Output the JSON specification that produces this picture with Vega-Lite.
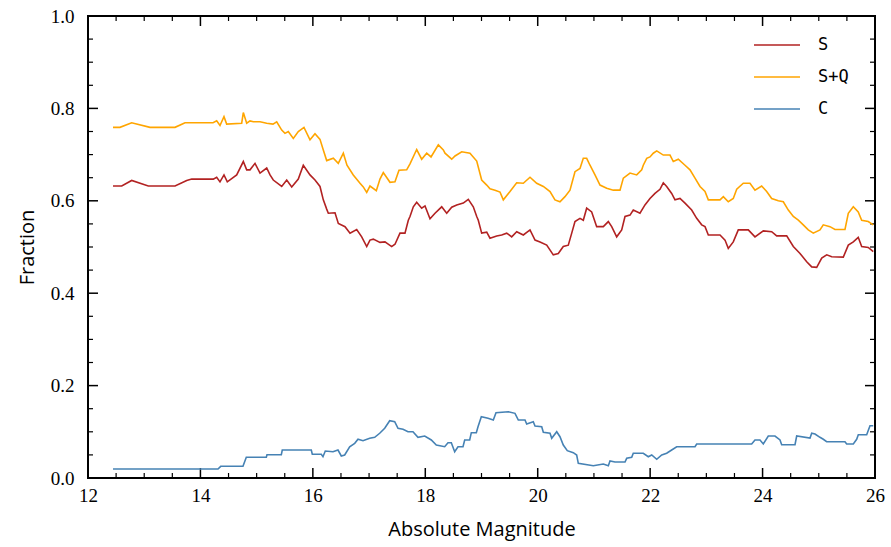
{
  "$schema": "https://vega.github.io/schema/vega-lite/v6.json",
  "width": 787,
  "height": 462,
  "autosize": {"type": "none"},
  "padding": {"left": 88, "top": 16, "right": 16, "bottom": 69},
  "background": "white",
  "config": {
    "view": {"stroke": "black", "strokeWidth": 2},
    "axis": {"grid": false, "domain": false, "labelColor": "black", "titleColor": "black"}
  },
  "datasets": {
    "xmajor": [{"t":12},{"t":14},{"t":16},{"t":18},{"t":20},{"t":22},{"t":24},{"t":26}],
    "xminor": [{"t":12.5},{"t":13},{"t":13.5},{"t":14.5},{"t":15},{"t":15.5},{"t":16.5},{"t":17},{"t":17.5},{"t":18.5},{"t":19},{"t":19.5},{"t":20.5},{"t":21},{"t":21.5},{"t":22.5},{"t":23},{"t":23.5},{"t":24.5},{"t":25},{"t":25.5}],
    "ymajor": [{"t":0},{"t":0.2},{"t":0.4},{"t":0.6},{"t":0.8},{"t":1.0}],
    "yminor": [{"t":0.05},{"t":0.1},{"t":0.15},{"t":0.25},{"t":0.3},{"t":0.35},{"t":0.45},{"t":0.5},{"t":0.55},{"t":0.65},{"t":0.7},{"t":0.75},{"t":0.85},{"t":0.9},{"t":0.95}],
    "curves": [
    {"mag":12.445,"frac":0.759,"type":"S+Q"},{"mag":12.569,"frac":0.759,"type":"S+Q"},{"mag":12.777,"frac":0.769,"type":"S+Q"},{"mag":13.103,"frac":0.759,"type":"S+Q"},{"mag":13.548,"frac":0.759,"type":"S+Q"},{"mag":13.726,"frac":0.769,"type":"S+Q"},{"mag":14.224,"frac":0.769,"type":"S+Q"},{"mag":14.289,"frac":0.773,"type":"S+Q"},{"mag":14.348,"frac":0.763,"type":"S+Q"},{"mag":14.419,"frac":0.782,"type":"S+Q"},{"mag":14.467,"frac":0.766,"type":"S+Q"},{"mag":14.734,"frac":0.768,"type":"S+Q"},{"mag":14.763,"frac":0.791,"type":"S+Q"},{"mag":14.823,"frac":0.768,"type":"S+Q"},{"mag":14.882,"frac":0.773,"type":"S+Q"},{"mag":14.941,"frac":0.771,"type":"S+Q"},{"mag":15.060,"frac":0.771,"type":"S+Q"},{"mag":15.179,"frac":0.768,"type":"S+Q"},{"mag":15.291,"frac":0.766,"type":"S+Q"},{"mag":15.357,"frac":0.771,"type":"S+Q"},{"mag":15.446,"frac":0.753,"type":"S+Q"},{"mag":15.504,"frac":0.746,"type":"S+Q"},{"mag":15.563,"frac":0.750,"type":"S+Q"},{"mag":15.652,"frac":0.735,"type":"S+Q"},{"mag":15.741,"frac":0.750,"type":"S+Q"},{"mag":15.842,"frac":0.759,"type":"S+Q"},{"mag":15.949,"frac":0.732,"type":"S+Q"},{"mag":16.038,"frac":0.745,"type":"S+Q"},{"mag":16.127,"frac":0.733,"type":"S+Q"},{"mag":16.186,"frac":0.710,"type":"S+Q"},{"mag":16.246,"frac":0.687,"type":"S+Q"},{"mag":16.364,"frac":0.692,"type":"S+Q"},{"mag":16.452,"frac":0.681,"type":"S+Q"},{"mag":16.542,"frac":0.703,"type":"S+Q"},{"mag":16.607,"frac":0.677,"type":"S+Q"},{"mag":16.719,"frac":0.656,"type":"S+Q"},{"mag":16.839,"frac":0.638,"type":"S+Q"},{"mag":16.897,"frac":0.630,"type":"S+Q"},{"mag":16.958,"frac":0.618,"type":"S+Q"},{"mag":17.016,"frac":0.632,"type":"S+Q"},{"mag":17.129,"frac":0.622,"type":"S+Q"},{"mag":17.194,"frac":0.647,"type":"S+Q"},{"mag":17.253,"frac":0.661,"type":"S+Q"},{"mag":17.372,"frac":0.640,"type":"S+Q"},{"mag":17.461,"frac":0.641,"type":"S+Q"},{"mag":17.532,"frac":0.666,"type":"S+Q"},{"mag":17.669,"frac":0.667,"type":"S+Q"},{"mag":17.728,"frac":0.680,"type":"S+Q"},{"mag":17.847,"frac":0.711,"type":"S+Q"},{"mag":17.936,"frac":0.690,"type":"S+Q"},{"mag":18.025,"frac":0.703,"type":"S+Q"},{"mag":18.102,"frac":0.695,"type":"S+Q"},{"mag":18.232,"frac":0.721,"type":"S+Q"},{"mag":18.321,"frac":0.710,"type":"S+Q"},{"mag":18.351,"frac":0.703,"type":"S+Q"},{"mag":18.470,"frac":0.690,"type":"S+Q"},{"mag":18.529,"frac":0.697,"type":"S+Q"},{"mag":18.648,"frac":0.706,"type":"S+Q"},{"mag":18.795,"frac":0.703,"type":"S+Q"},{"mag":18.915,"frac":0.686,"type":"S+Q"},{"mag":19.003,"frac":0.645,"type":"S+Q"},{"mag":19.093,"frac":0.634,"type":"S+Q"},{"mag":19.151,"frac":0.626,"type":"S+Q"},{"mag":19.240,"frac":0.623,"type":"S+Q"},{"mag":19.329,"frac":0.619,"type":"S+Q"},{"mag":19.388,"frac":0.602,"type":"S+Q"},{"mag":19.507,"frac":0.620,"type":"S+Q"},{"mag":19.626,"frac":0.639,"type":"S+Q"},{"mag":19.744,"frac":0.638,"type":"S+Q"},{"mag":19.863,"frac":0.651,"type":"S+Q"},{"mag":19.982,"frac":0.638,"type":"S+Q"},{"mag":20.100,"frac":0.631,"type":"S+Q"},{"mag":20.219,"frac":0.620,"type":"S+Q"},{"mag":20.307,"frac":0.602,"type":"S+Q"},{"mag":20.396,"frac":0.598,"type":"S+Q"},{"mag":20.485,"frac":0.609,"type":"S+Q"},{"mag":20.574,"frac":0.623,"type":"S+Q"},{"mag":20.663,"frac":0.663,"type":"S+Q"},{"mag":20.752,"frac":0.670,"type":"S+Q"},{"mag":20.811,"frac":0.692,"type":"S+Q"},{"mag":20.871,"frac":0.692,"type":"S+Q"},{"mag":20.930,"frac":0.677,"type":"S+Q"},{"mag":21.019,"frac":0.656,"type":"S+Q"},{"mag":21.108,"frac":0.634,"type":"S+Q"},{"mag":21.227,"frac":0.627,"type":"S+Q"},{"mag":21.345,"frac":0.623,"type":"S+Q"},{"mag":21.464,"frac":0.623,"type":"S+Q"},{"mag":21.523,"frac":0.649,"type":"S+Q"},{"mag":21.642,"frac":0.660,"type":"S+Q"},{"mag":21.761,"frac":0.656,"type":"S+Q"},{"mag":21.850,"frac":0.667,"type":"S+Q"},{"mag":21.878,"frac":0.677,"type":"S+Q"},{"mag":21.939,"frac":0.692,"type":"S+Q"},{"mag":21.997,"frac":0.695,"type":"S+Q"},{"mag":22.056,"frac":0.703,"type":"S+Q"},{"mag":22.117,"frac":0.708,"type":"S+Q"},{"mag":22.234,"frac":0.699,"type":"S+Q"},{"mag":22.353,"frac":0.699,"type":"S+Q"},{"mag":22.412,"frac":0.685,"type":"S+Q"},{"mag":22.501,"frac":0.690,"type":"S+Q"},{"mag":22.620,"frac":0.677,"type":"S+Q"},{"mag":22.709,"frac":0.667,"type":"S+Q"},{"mag":22.798,"frac":0.649,"type":"S+Q"},{"mag":22.887,"frac":0.631,"type":"S+Q"},{"mag":22.976,"frac":0.620,"type":"S+Q"},{"mag":23.035,"frac":0.602,"type":"S+Q"},{"mag":23.243,"frac":0.602,"type":"S+Q"},{"mag":23.302,"frac":0.609,"type":"S+Q"},{"mag":23.390,"frac":0.598,"type":"S+Q"},{"mag":23.479,"frac":0.605,"type":"S+Q"},{"mag":23.540,"frac":0.625,"type":"S+Q"},{"mag":23.657,"frac":0.638,"type":"S+Q"},{"mag":23.776,"frac":0.638,"type":"S+Q"},{"mag":23.865,"frac":0.623,"type":"S+Q"},{"mag":23.984,"frac":0.632,"type":"S+Q"},{"mag":24.073,"frac":0.620,"type":"S+Q"},{"mag":24.162,"frac":0.605,"type":"S+Q"},{"mag":24.280,"frac":0.600,"type":"S+Q"},{"mag":24.369,"frac":0.598,"type":"S+Q"},{"mag":24.458,"frac":0.580,"type":"S+Q"},{"mag":24.547,"frac":0.566,"type":"S+Q"},{"mag":24.636,"frac":0.558,"type":"S+Q"},{"mag":24.724,"frac":0.548,"type":"S+Q"},{"mag":24.813,"frac":0.537,"type":"S+Q"},{"mag":24.902,"frac":0.530,"type":"S+Q"},{"mag":25.021,"frac":0.537,"type":"S+Q"},{"mag":25.080,"frac":0.548,"type":"S+Q"},{"mag":25.199,"frac":0.544,"type":"S+Q"},{"mag":25.288,"frac":0.538,"type":"S+Q"},{"mag":25.466,"frac":0.538,"type":"S+Q"},{"mag":25.525,"frac":0.573,"type":"S+Q"},{"mag":25.614,"frac":0.587,"type":"S+Q"},{"mag":25.702,"frac":0.576,"type":"S+Q"},{"mag":25.763,"frac":0.558,"type":"S+Q"},{"mag":25.880,"frac":0.555,"type":"S+Q"},{"mag":25.969,"frac":0.548,"type":"S+Q"},
    {"mag":12.445,"frac":0.632,"type":"S"},{"mag":12.600,"frac":0.632,"type":"S"},{"mag":12.777,"frac":0.644,"type":"S"},{"mag":13.073,"frac":0.632,"type":"S"},{"mag":13.548,"frac":0.632,"type":"S"},{"mag":13.756,"frac":0.644,"type":"S"},{"mag":13.845,"frac":0.647,"type":"S"},{"mag":14.229,"frac":0.647,"type":"S"},{"mag":14.289,"frac":0.651,"type":"S"},{"mag":14.348,"frac":0.641,"type":"S"},{"mag":14.419,"frac":0.656,"type":"S"},{"mag":14.478,"frac":0.641,"type":"S"},{"mag":14.645,"frac":0.656,"type":"S"},{"mag":14.763,"frac":0.685,"type":"S"},{"mag":14.823,"frac":0.667,"type":"S"},{"mag":14.882,"frac":0.667,"type":"S"},{"mag":14.971,"frac":0.681,"type":"S"},{"mag":15.060,"frac":0.660,"type":"S"},{"mag":15.179,"frac":0.671,"type":"S"},{"mag":15.238,"frac":0.656,"type":"S"},{"mag":15.296,"frac":0.645,"type":"S"},{"mag":15.446,"frac":0.631,"type":"S"},{"mag":15.535,"frac":0.645,"type":"S"},{"mag":15.624,"frac":0.630,"type":"S"},{"mag":15.741,"frac":0.647,"type":"S"},{"mag":15.830,"frac":0.677,"type":"S"},{"mag":15.949,"frac":0.656,"type":"S"},{"mag":16.038,"frac":0.645,"type":"S"},{"mag":16.127,"frac":0.631,"type":"S"},{"mag":16.186,"frac":0.602,"type":"S"},{"mag":16.246,"frac":0.582,"type":"S"},{"mag":16.275,"frac":0.573,"type":"S"},{"mag":16.394,"frac":0.574,"type":"S"},{"mag":16.453,"frac":0.551,"type":"S"},{"mag":16.572,"frac":0.544,"type":"S"},{"mag":16.661,"frac":0.530,"type":"S"},{"mag":16.780,"frac":0.538,"type":"S"},{"mag":16.869,"frac":0.522,"type":"S"},{"mag":16.958,"frac":0.501,"type":"S"},{"mag":17.016,"frac":0.515,"type":"S"},{"mag":17.075,"frac":0.517,"type":"S"},{"mag":17.194,"frac":0.510,"type":"S"},{"mag":17.283,"frac":0.511,"type":"S"},{"mag":17.402,"frac":0.501,"type":"S"},{"mag":17.461,"frac":0.506,"type":"S"},{"mag":17.550,"frac":0.530,"type":"S"},{"mag":17.639,"frac":0.530,"type":"S"},{"mag":17.698,"frac":0.558,"type":"S"},{"mag":17.728,"frac":0.566,"type":"S"},{"mag":17.787,"frac":0.587,"type":"S"},{"mag":17.847,"frac":0.597,"type":"S"},{"mag":17.936,"frac":0.584,"type":"S"},{"mag":17.995,"frac":0.589,"type":"S"},{"mag":18.084,"frac":0.561,"type":"S"},{"mag":18.173,"frac":0.573,"type":"S"},{"mag":18.292,"frac":0.587,"type":"S"},{"mag":18.381,"frac":0.573,"type":"S"},{"mag":18.470,"frac":0.586,"type":"S"},{"mag":18.559,"frac":0.591,"type":"S"},{"mag":18.676,"frac":0.595,"type":"S"},{"mag":18.765,"frac":0.603,"type":"S"},{"mag":18.854,"frac":0.587,"type":"S"},{"mag":18.915,"frac":0.566,"type":"S"},{"mag":18.943,"frac":0.558,"type":"S"},{"mag":19.003,"frac":0.530,"type":"S"},{"mag":19.093,"frac":0.532,"type":"S"},{"mag":19.151,"frac":0.519,"type":"S"},{"mag":19.270,"frac":0.524,"type":"S"},{"mag":19.359,"frac":0.526,"type":"S"},{"mag":19.448,"frac":0.530,"type":"S"},{"mag":19.537,"frac":0.522,"type":"S"},{"mag":19.626,"frac":0.533,"type":"S"},{"mag":19.744,"frac":0.526,"type":"S"},{"mag":19.863,"frac":0.537,"type":"S"},{"mag":19.952,"frac":0.515,"type":"S"},{"mag":20.041,"frac":0.511,"type":"S"},{"mag":20.160,"frac":0.504,"type":"S"},{"mag":20.277,"frac":0.483,"type":"S"},{"mag":20.366,"frac":0.486,"type":"S"},{"mag":20.455,"frac":0.501,"type":"S"},{"mag":20.544,"frac":0.504,"type":"S"},{"mag":20.605,"frac":0.530,"type":"S"},{"mag":20.663,"frac":0.555,"type":"S"},{"mag":20.752,"frac":0.562,"type":"S"},{"mag":20.811,"frac":0.558,"type":"S"},{"mag":20.871,"frac":0.584,"type":"S"},{"mag":20.960,"frac":0.576,"type":"S"},{"mag":21.049,"frac":0.544,"type":"S"},{"mag":21.167,"frac":0.544,"type":"S"},{"mag":21.256,"frac":0.555,"type":"S"},{"mag":21.316,"frac":0.544,"type":"S"},{"mag":21.405,"frac":0.522,"type":"S"},{"mag":21.494,"frac":0.537,"type":"S"},{"mag":21.553,"frac":0.566,"type":"S"},{"mag":21.642,"frac":0.569,"type":"S"},{"mag":21.700,"frac":0.580,"type":"S"},{"mag":21.819,"frac":0.573,"type":"S"},{"mag":21.908,"frac":0.591,"type":"S"},{"mag":21.997,"frac":0.605,"type":"S"},{"mag":22.086,"frac":0.616,"type":"S"},{"mag":22.175,"frac":0.625,"type":"S"},{"mag":22.234,"frac":0.639,"type":"S"},{"mag":22.294,"frac":0.631,"type":"S"},{"mag":22.383,"frac":0.616,"type":"S"},{"mag":22.442,"frac":0.602,"type":"S"},{"mag":22.531,"frac":0.605,"type":"S"},{"mag":22.620,"frac":0.595,"type":"S"},{"mag":22.739,"frac":0.580,"type":"S"},{"mag":22.828,"frac":0.562,"type":"S"},{"mag":22.917,"frac":0.548,"type":"S"},{"mag":22.976,"frac":0.544,"type":"S"},{"mag":23.035,"frac":0.526,"type":"S"},{"mag":23.243,"frac":0.526,"type":"S"},{"mag":23.332,"frac":0.515,"type":"S"},{"mag":23.390,"frac":0.497,"type":"S"},{"mag":23.479,"frac":0.511,"type":"S"},{"mag":23.568,"frac":0.537,"type":"S"},{"mag":23.746,"frac":0.537,"type":"S"},{"mag":23.865,"frac":0.522,"type":"S"},{"mag":24.013,"frac":0.535,"type":"S"},{"mag":24.162,"frac":0.533,"type":"S"},{"mag":24.251,"frac":0.524,"type":"S"},{"mag":24.429,"frac":0.524,"type":"S"},{"mag":24.547,"frac":0.501,"type":"S"},{"mag":24.666,"frac":0.486,"type":"S"},{"mag":24.785,"frac":0.468,"type":"S"},{"mag":24.874,"frac":0.457,"type":"S"},{"mag":24.963,"frac":0.456,"type":"S"},{"mag":25.052,"frac":0.476,"type":"S"},{"mag":25.141,"frac":0.483,"type":"S"},{"mag":25.230,"frac":0.479,"type":"S"},{"mag":25.436,"frac":0.478,"type":"S"},{"mag":25.525,"frac":0.504,"type":"S"},{"mag":25.614,"frac":0.511,"type":"S"},{"mag":25.702,"frac":0.521,"type":"S"},{"mag":25.763,"frac":0.501,"type":"S"},{"mag":25.880,"frac":0.499,"type":"S"},{"mag":25.969,"frac":0.490,"type":"S"},
    {"mag":12.445,"frac":0.0195,"type":"C"},{"mag":14.313,"frac":0.0195,"type":"C"},{"mag":14.361,"frac":0.0253,"type":"C"},{"mag":14.757,"frac":0.0253,"type":"C"},{"mag":14.816,"frac":0.0448,"type":"C"},{"mag":15.172,"frac":0.0448,"type":"C"},{"mag":15.184,"frac":0.0504,"type":"C"},{"mag":15.439,"frac":0.0504,"type":"C"},{"mag":15.456,"frac":0.0606,"type":"C"},{"mag":15.972,"frac":0.0606,"type":"C"},{"mag":15.990,"frac":0.0513,"type":"C"},{"mag":16.150,"frac":0.0513,"type":"C"},{"mag":16.180,"frac":0.0461,"type":"C"},{"mag":16.221,"frac":0.0584,"type":"C"},{"mag":16.358,"frac":0.0569,"type":"C"},{"mag":16.447,"frac":0.0606,"type":"C"},{"mag":16.506,"frac":0.0476,"type":"C"},{"mag":16.566,"frac":0.0498,"type":"C"},{"mag":16.655,"frac":0.0677,"type":"C"},{"mag":16.744,"frac":0.0751,"type":"C"},{"mag":16.803,"frac":0.0838,"type":"C"},{"mag":16.892,"frac":0.0807,"type":"C"},{"mag":17.011,"frac":0.0859,"type":"C"},{"mag":17.100,"frac":0.0881,"type":"C"},{"mag":17.189,"frac":0.0968,"type":"C"},{"mag":17.278,"frac":0.1076,"type":"C"},{"mag":17.367,"frac":0.1240,"type":"C"},{"mag":17.456,"frac":0.1219,"type":"C"},{"mag":17.515,"frac":0.1076,"type":"C"},{"mag":17.604,"frac":0.1054,"type":"C"},{"mag":17.692,"frac":0.1002,"type":"C"},{"mag":17.781,"frac":0.1002,"type":"C"},{"mag":17.870,"frac":0.0881,"type":"C"},{"mag":17.990,"frac":0.0909,"type":"C"},{"mag":18.107,"frac":0.0823,"type":"C"},{"mag":18.196,"frac":0.0714,"type":"C"},{"mag":18.345,"frac":0.0677,"type":"C"},{"mag":18.404,"frac":0.0764,"type":"C"},{"mag":18.463,"frac":0.0764,"type":"C"},{"mag":18.523,"frac":0.0569,"type":"C"},{"mag":18.582,"frac":0.0677,"type":"C"},{"mag":18.671,"frac":0.0677,"type":"C"},{"mag":18.701,"frac":0.0823,"type":"C"},{"mag":18.790,"frac":0.0823,"type":"C"},{"mag":18.819,"frac":0.0981,"type":"C"},{"mag":18.908,"frac":0.0981,"type":"C"},{"mag":18.938,"frac":0.1110,"type":"C"},{"mag":18.997,"frac":0.1327,"type":"C"},{"mag":19.116,"frac":0.1292,"type":"C"},{"mag":19.210,"frac":0.1255,"type":"C"},{"mag":19.258,"frac":0.1413,"type":"C"},{"mag":19.477,"frac":0.1435,"type":"C"},{"mag":19.596,"frac":0.1400,"type":"C"},{"mag":19.655,"frac":0.1255,"type":"C"},{"mag":19.774,"frac":0.1255,"type":"C"},{"mag":19.804,"frac":0.1169,"type":"C"},{"mag":19.921,"frac":0.1219,"type":"C"},{"mag":19.952,"frac":0.1126,"type":"C"},{"mag":20.071,"frac":0.1110,"type":"C"},{"mag":20.100,"frac":0.0989,"type":"C"},{"mag":20.219,"frac":0.0968,"type":"C"},{"mag":20.249,"frac":0.0859,"type":"C"},{"mag":20.338,"frac":0.1002,"type":"C"},{"mag":20.396,"frac":0.0894,"type":"C"},{"mag":20.455,"frac":0.0714,"type":"C"},{"mag":20.526,"frac":0.0591,"type":"C"},{"mag":20.633,"frac":0.0548,"type":"C"},{"mag":20.693,"frac":0.0498,"type":"C"},{"mag":20.722,"frac":0.0318,"type":"C"},{"mag":20.989,"frac":0.0266,"type":"C"},{"mag":21.167,"frac":0.0303,"type":"C"},{"mag":21.256,"frac":0.0266,"type":"C"},{"mag":21.286,"frac":0.0368,"type":"C"},{"mag":21.375,"frac":0.0346,"type":"C"},{"mag":21.553,"frac":0.0346,"type":"C"},{"mag":21.583,"frac":0.0426,"type":"C"},{"mag":21.672,"frac":0.0448,"type":"C"},{"mag":21.700,"frac":0.0535,"type":"C"},{"mag":21.878,"frac":0.0535,"type":"C"},{"mag":21.967,"frac":0.0461,"type":"C"},{"mag":22.028,"frac":0.0498,"type":"C"},{"mag":22.117,"frac":0.0405,"type":"C"},{"mag":22.206,"frac":0.0498,"type":"C"},{"mag":22.294,"frac":0.0535,"type":"C"},{"mag":22.383,"frac":0.0606,"type":"C"},{"mag":22.472,"frac":0.0677,"type":"C"},{"mag":22.798,"frac":0.0677,"type":"C"},{"mag":22.828,"frac":0.0736,"type":"C"},{"mag":23.806,"frac":0.0736,"type":"C"},{"mag":23.865,"frac":0.0823,"type":"C"},{"mag":23.954,"frac":0.0823,"type":"C"},{"mag":24.013,"frac":0.0736,"type":"C"},{"mag":24.102,"frac":0.0909,"type":"C"},{"mag":24.221,"frac":0.0909,"type":"C"},{"mag":24.310,"frac":0.0823,"type":"C"},{"mag":24.340,"frac":0.0721,"type":"C"},{"mag":24.577,"frac":0.0721,"type":"C"},{"mag":24.607,"frac":0.0909,"type":"C"},{"mag":24.844,"frac":0.0866,"type":"C"},{"mag":24.874,"frac":0.0968,"type":"C"},{"mag":24.933,"frac":0.0952,"type":"C"},{"mag":25.021,"frac":0.0881,"type":"C"},{"mag":25.080,"frac":0.0838,"type":"C"},{"mag":25.140,"frac":0.0786,"type":"C"},{"mag":25.466,"frac":0.0786,"type":"C"},{"mag":25.496,"frac":0.0736,"type":"C"},{"mag":25.614,"frac":0.0736,"type":"C"},{"mag":25.674,"frac":0.0838,"type":"C"},{"mag":25.703,"frac":0.0937,"type":"C"},{"mag":25.852,"frac":0.0937,"type":"C"},{"mag":25.911,"frac":0.1132,"type":"C"},{"mag":25.969,"frac":0.1132,"type":"C"}
    ]
  },
  "resolve": {"axis": {"x": "independent", "y": "independent"}},
  "layer": [
    {
      "data": {"name": "xmajor"},
      "mark": {"type": "tick", "orient": "vertical", "size": 10, "thickness": 1.5, "color": "black", "opacity": 1, "yOffset": -5},
      "encoding": {"x": {"field": "t", "type": "quantitative", "axis": null}, "y": {"datum": 0, "type": "quantitative", "axis": null}}
    },
    {
      "data": {"name": "xmajor"},
      "mark": {"type": "tick", "orient": "vertical", "size": 10, "thickness": 1.5, "color": "black", "opacity": 1, "yOffset": 5},
      "encoding": {"x": {"field": "t", "type": "quantitative", "axis": null}, "y": {"datum": 1, "type": "quantitative", "axis": null}}
    },
    {
      "data": {"name": "xminor"},
      "mark": {"type": "tick", "orient": "vertical", "size": 5, "thickness": 1.2, "color": "black", "opacity": 1, "yOffset": -2.5},
      "encoding": {"x": {"field": "t", "type": "quantitative", "axis": null}, "y": {"datum": 0, "type": "quantitative", "axis": null}}
    },
    {
      "data": {"name": "xminor"},
      "mark": {"type": "tick", "orient": "vertical", "size": 5, "thickness": 1.2, "color": "black", "opacity": 1, "yOffset": 2.5},
      "encoding": {"x": {"field": "t", "type": "quantitative", "axis": null}, "y": {"datum": 1, "type": "quantitative", "axis": null}}
    },
    {
      "data": {"name": "ymajor"},
      "mark": {"type": "tick", "orient": "horizontal", "size": 10, "thickness": 1.5, "color": "black", "opacity": 1, "xOffset": 5},
      "encoding": {"y": {"field": "t", "type": "quantitative", "axis": null}, "x": {"datum": 12, "type": "quantitative", "axis": null}}
    },
    {
      "data": {"name": "ymajor"},
      "mark": {"type": "tick", "orient": "horizontal", "size": 10, "thickness": 1.5, "color": "black", "opacity": 1, "xOffset": -5},
      "encoding": {"y": {"field": "t", "type": "quantitative", "axis": null}, "x": {"datum": 26, "type": "quantitative", "axis": null}}
    },
    {
      "data": {"name": "yminor"},
      "mark": {"type": "tick", "orient": "horizontal", "size": 5, "thickness": 1.2, "color": "black", "opacity": 1, "xOffset": 2.5},
      "encoding": {"y": {"field": "t", "type": "quantitative", "axis": null}, "x": {"datum": 12, "type": "quantitative", "axis": null}}
    },
    {
      "data": {"name": "yminor"},
      "mark": {"type": "tick", "orient": "horizontal", "size": 5, "thickness": 1.2, "color": "black", "opacity": 1, "xOffset": -2.5},
      "encoding": {"y": {"field": "t", "type": "quantitative", "axis": null}, "x": {"datum": 26, "type": "quantitative", "axis": null}}
    },
    {
      "data": {"name": "curves"},
      "mark": {"type": "line", "strokeWidth": 1.6},
      "encoding": {
        "x": {"field": "mag", "type": "quantitative", "scale": {"domain": [12, 26], "nice": false, "zero": false},
          "axis": {"orient": "bottom", "title": "Absolute Magnitude", "titleFont": "Open Sans", "titleFontSize": 20, "titleFontWeight": "normal", "titlePadding": 14,
            "labelFont": "Liberation Serif", "labelFontSize": 19, "labelPadding": 8, "ticks": false, "values": [12, 14, 16, 18, 20, 22, 24, 26], "format": "d", "labelFlush": false}},
        "y": {"field": "frac", "type": "quantitative", "scale": {"domain": [0, 1], "nice": false},
          "axis": {"orient": "left", "title": "Fraction", "titleFont": "Open Sans", "titleFontSize": 20, "titleFontWeight": "normal", "titlePadding": 13,
            "labelFont": "Liberation Serif", "labelFontSize": 19, "labelPadding": 14, "ticks": false, "values": [0, 0.2, 0.4, 0.6, 0.8, 1.0], "format": ".1f", "labelFlush": false}},
        "color": {"field": "type", "type": "nominal",
          "scale": {"domain": ["S", "S+Q", "C"], "range": ["#b22222", "#ffa500", "#4682b4"]},
          "legend": {"title": null, "orient": "none", "legendX": 665, "legendY": 5, "symbolType": "stroke", "symbolSize": 2116, "symbolStrokeWidth": 1.6,
            "labelFont": "DejaVu Sans Mono", "labelFontSize": 17, "labelOffset": 17, "rowPadding": -14.5, "padding": 0, "labelColor": "black"}}
      }
    }
  ]
}
